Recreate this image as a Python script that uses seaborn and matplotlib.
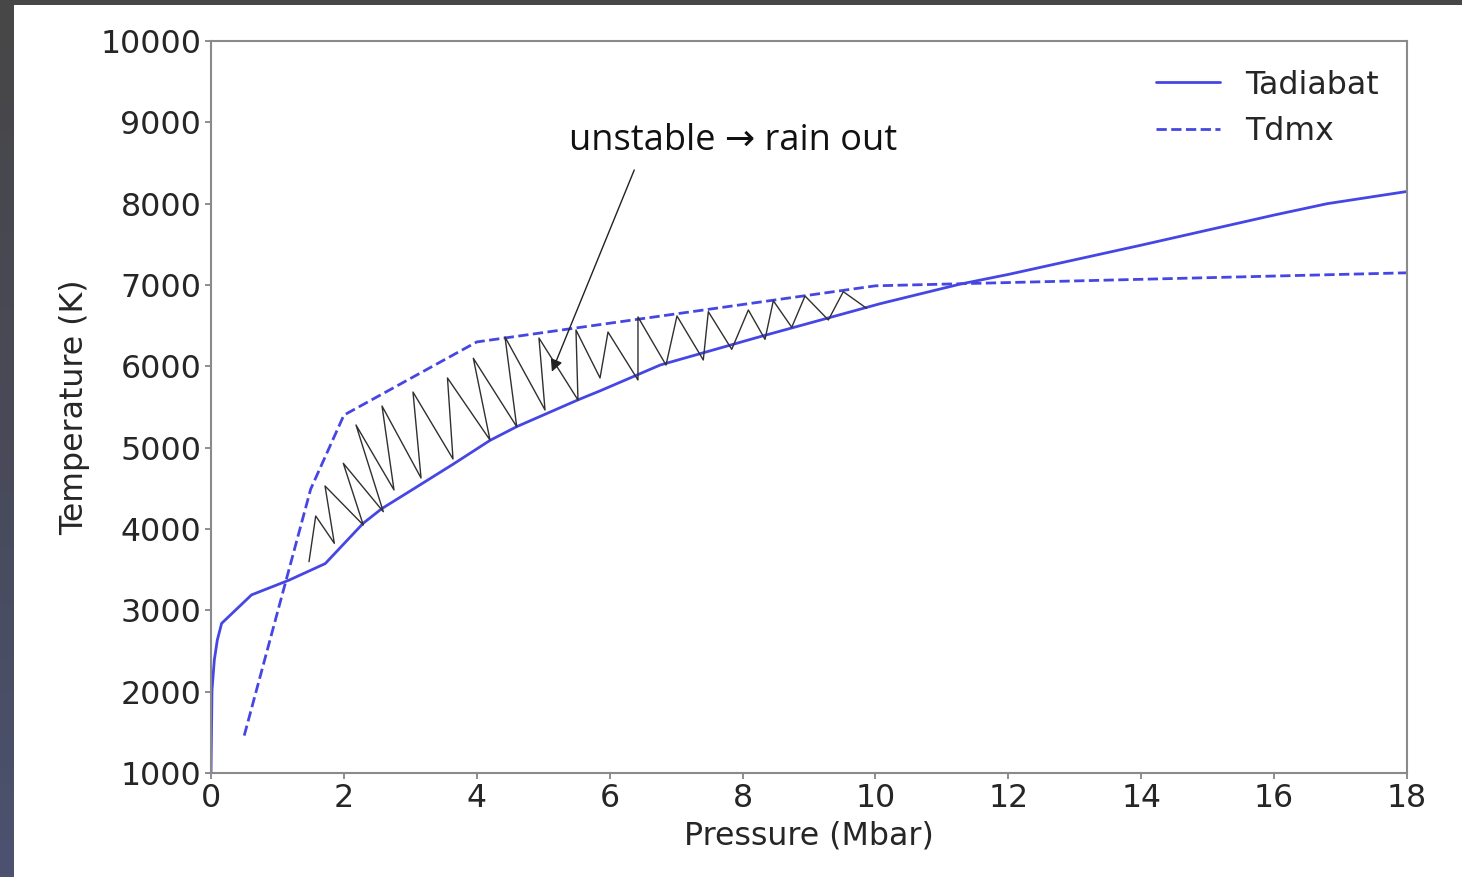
import numpy as np
import matplotlib
matplotlib.use("Agg")
import matplotlib.pyplot as plt
from matplotlib.colors import LinearSegmentedColormap
import seaborn as sns
import pandas as pd

# ---------------- data ----------------
adiabat_p = [0.0, 0.015, 0.05, 0.095, 0.16, 0.61, 1.18, 1.72, 2.29, 2.57, 3.07, 3.65,
             4.20, 4.60, 5.53, 5.86, 6.76, 8.26, 10.07, 11.27, 12.0, 14.0, 16.0, 16.8, 18.0]
adiabat_t = [1000, 2020, 2390, 2635, 2840, 3190, 3373, 3575, 4070, 4250, 4504, 4800,
             5090, 5258, 5590, 5700, 6016, 6364, 6770, 7010, 7130, 7490, 7860, 8000, 8150]

dmx_p = [0.5, 1.5, 2.0, 4.0, 10.0, 18.0]
dmx_t = [1460, 4490, 5400, 6300, 6990, 7150]

zig_p = [1.475, 1.576, 1.856, 1.716, 2.292, 1.991, 2.593, 2.182, 2.754, 2.574, 3.161,
         3.040, 3.642, 3.559, 4.199, 3.948, 4.601, 4.425, 5.027, 4.936, 5.523, 5.493,
         5.855, 5.975, 6.426, 6.426, 6.848, 7.013, 7.409, 7.485, 7.837, 8.087, 8.338,
         8.463, 8.740, 8.940, 9.291, 9.516, 9.868]
zig_t = [3598, 4160, 3824, 4529, 4049, 4808, 4213, 5279, 4480, 5512, 4627,
         5684, 4861, 5857, 5094, 6099, 5258, 6361, 5463, 6348, 5586, 6447,
         5857, 6422, 5832, 6607, 6016, 6619, 6078, 6672, 6209, 6693, 6332,
         6807, 6480, 6865, 6570, 6918, 6713]

x_ticks = [0, 2, 4, 6, 8, 10, 12, 14, 16, 18]
y_ticks = [1000, 2000, 3000, 4000, 5000, 6000, 7000, 8000, 9000, 10000]

series_labels = ["Tadiabat", "Tdmx"]
annot_text = "unstable \u2192 rain out"
annot_text_pos = (7.86, 8770)
annot_tail = (6.37, 8414)
annot_tip = (5.13, 5934)

# ---------------- style ----------------
sns.set_style("white")
plt.rcParams["font.family"] = ["DejaVu Sans"]

W, H = 1462, 877
fig = plt.figure(figsize=(W / 100, H / 100), dpi=100)
fig.patch.set_facecolor("white")

# slide frame (dark border at top and left)
grad_ax = fig.add_axes([0, 0, 14 / W, 1])
grad = np.linspace(0, 1, 256).reshape(-1, 1)
cmap = LinearSegmentedColormap.from_list("frame", ["#4c5270", "#484a58", "#474747"])
grad_ax.imshow(grad, aspect="auto", cmap=cmap, origin="lower", extent=[0, 1, 0, 1])
grad_ax.set_axis_off()
top_ax = fig.add_axes([0, 1 - 5 / H, 1, 5 / H])
top_ax.set_facecolor("#474747")
top_ax.set_xticks([]); top_ax.set_yticks([])
for s in top_ax.spines.values():
    s.set_visible(False)

ax = fig.add_axes([211 / W, 1 - 773 / H, (1407 - 211) / W, (773 - 41) / H])

blue = "#4646e4"
df_a = pd.DataFrame({"P": adiabat_p, "T": adiabat_t})
df_d = pd.DataFrame({"P": dmx_p, "T": dmx_t})
df_z = pd.DataFrame({"P": zig_p, "T": zig_t})

sns.lineplot(data=df_a, x="P", y="T", ax=ax, color=blue, lw=2.0, sort=False,
             estimator=None, label=series_labels[0])
sns.lineplot(data=df_d, x="P", y="T", ax=ax, color=blue, lw=2.0, linestyle="--",
             sort=False, estimator=None, label=series_labels[1])
sns.lineplot(data=df_z, x="P", y="T", ax=ax, color="#303030", lw=1.0, sort=False,
             estimator=None, legend=False, solid_joinstyle="round")

ax.set_xlim(0, 18)
ax.set_ylim(1000, 10000)
ax.set_xticks(x_ticks)
ax.set_yticks(y_ticks)
ax.set_xticklabels([str(v) for v in x_ticks])
ax.set_yticklabels([str(v) for v in y_ticks])

fs = 22.8
ax.tick_params(axis="both", labelsize=fs, colors="#7a7a7a", labelcolor="#262626",
               length=4, width=1.2, direction="out", pad=3, left=True, bottom=True)
for s in ax.spines.values():
    s.set_color("#8a8a8a")
    s.set_linewidth(1.5)

ax.set_xlabel("Pressure (Mbar)", fontsize=fs, color="#262626", labelpad=5)
ax.set_ylabel("Temperature (K)", fontsize=fs, color="#262626", labelpad=7)

handles, labels = ax.get_legend_handles_labels()
leg = ax.legend(handles, labels, loc="upper right", frameon=False, fontsize=fs)
for t in leg.get_texts():
    t.set_color("#262626")

ax.text(annot_text_pos[0], annot_text_pos[1], annot_text, fontsize=26,
        family=["Open Sans", "DejaVu Sans"], ha="center", va="center", color="#111111")
ax.annotate("", xy=annot_tip, xytext=annot_tail,
            arrowprops=dict(arrowstyle="-|>", color="#222222", lw=1.0,
                            mutation_scale=18, shrinkA=0, shrinkB=0))

fig.savefig("out.png", dpi=100, facecolor="white")
